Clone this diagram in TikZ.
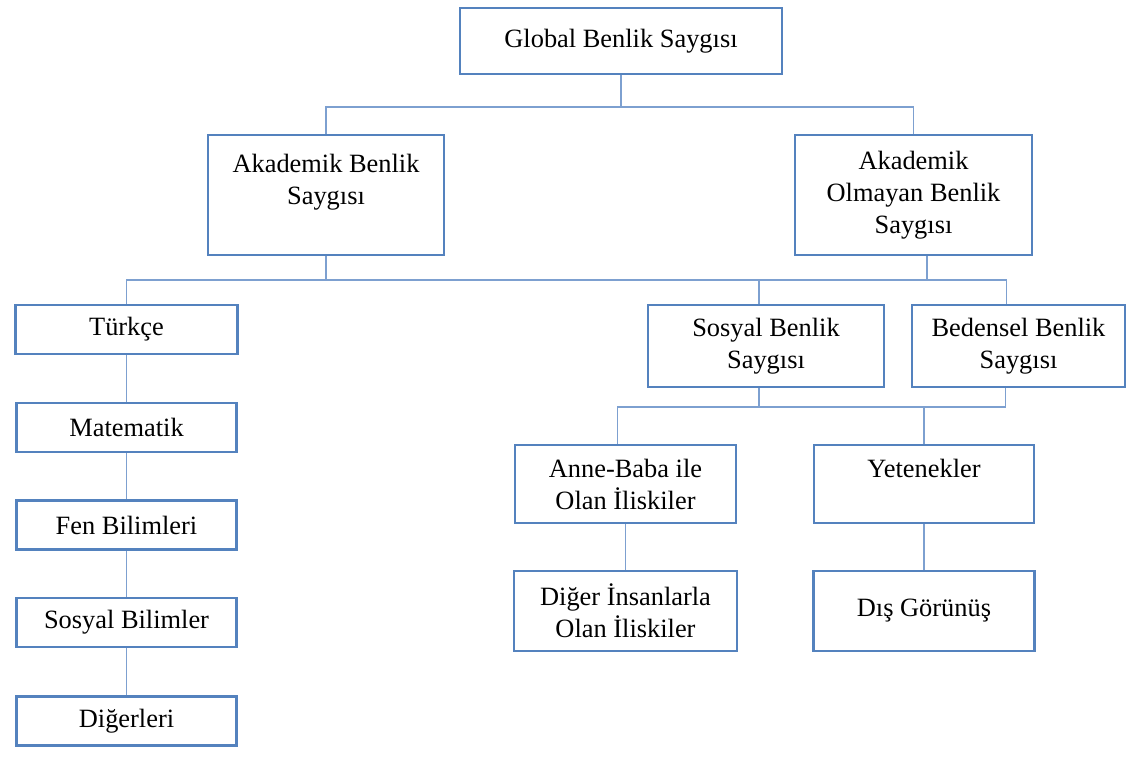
\documentclass[tikz,border=0pt]{standalone}
\usepackage{fontspec}
\setmainfont{Liberation Serif}
\usepackage{tikz}
\usetikzlibrary{positioning}

\definecolor{boxblue}{RGB}{84,130,190}
\definecolor{linkblue}{RGB}{125,160,208}

\tikzset{
  box/.style={draw=boxblue, line width=1.4pt, fill=white, align=center, inner sep=0pt,
              font=\fontsize{13.2}{16}\selectfont},
  link/.style={draw=linkblue, line width=0.8pt}
}

\begin{document}
\begin{tikzpicture}[x=0.5pt, y=-0.5pt]
  \useasboundingbox (0,0) rectangle (1127,760);
  \node [box, minimum width=161pt, minimum height=33pt] (glob) at (621,41) {Global Benlik Saygısı};
  \node [box, minimum width=118pt, minimum height=60pt] (akad) at (326,195) {Akademik Benlik\\Saygısı\\\mbox{}};
  \node [box, minimum width=118.5pt, minimum height=60pt] (olm) at (913.5,195) {Akademik\\Olmayan Benlik\\Saygısı};
  % akademik alanlar
  \node [box, minimum width=111pt, minimum height=24.5pt] (turk) at (126.5,329.5) {Türkçe};
  \node [box, minimum width=110pt, minimum height=24.5pt] (mat) at (126.5,427.5) {Matematik};
  \node [box, minimum width=110pt, minimum height=24.5pt] (fen) at (126.5,525) {Fen Bilimleri};
  \node [box, minimum width=110pt, minimum height=24.5pt] (sbil) at (126.5,622.5) {Sosyal Bilimler};
  \node [box, minimum width=110pt, minimum height=24.5pt] (dig) at (126.5,721) {Diğerleri};
  % akademik olmayan alanlar
  \node [box, minimum width=118pt, minimum height=41pt] (sos) at (766,346) {Sosyal Benlik\\Saygısı};
  \node [box, minimum width=106.5pt, minimum height=41pt] (bed) at (1018.5,346) {Bedensel Benlik\\Saygısı};
  \node [box, minimum width=110.5pt, minimum height=39pt] (anne) at (625.5,484) {Anne-Baba ile\\Olan İliskiler};
  \node [box, minimum width=110pt, minimum height=39pt] (yet) at (924,484) {Yetenekler\\\mbox{}};
  \node [box, minimum width=111.5pt, minimum height=40pt] (diger) at (625.5,611) {Diğer İnsanlarla\\Olan İliskiler};
  \node [box, minimum width=110.5pt, minimum height=40pt] (dis) at (924,611) {Dış Görünüş};

  \coordinate (g1) at (621,107);
  \coordinate (a1) at (326,280);
  \coordinate (s1) at (759,407);

  \draw [link] (glob) -- (g1);
  \draw [link] (akad) |- (g1) -| (olm);
  \draw [link] (akad) -- (a1);
  \draw [link] (turk) |- (a1) -| ([xshift=-6pt]bed.north);
  \draw [link] ([xshift=6.75pt]olm.south) -- ([xshift=6.75pt]olm.south |- a1);
  \draw [link] ([xshift=-3.5pt]sos.north) -- ([xshift=-3.5pt]sos.north |- a1);
  \draw [link] (turk) -- (mat) -- (fen) -- (sbil) -- (dig);
  \draw [link] ([xshift=-3.5pt]sos.south) -- (s1);
  \draw [link] ([xshift=-4pt]anne.north) |- (s1) -| ([xshift=-6.5pt]bed.south);
  \draw [link] (s1) -| (yet);
  \draw [link] (anne) -- (diger);
  \draw [link] (yet) -- (dis);
\end{tikzpicture}
\end{document}
